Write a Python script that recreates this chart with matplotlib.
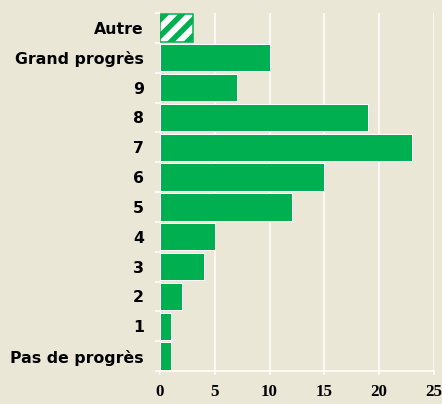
import matplotlib
matplotlib.use("Agg")
import matplotlib.pyplot as plt
from matplotlib.lines import Line2D
from matplotlib.transforms import IdentityTransform
import numpy as np

# data (bottom to top)
categories = ["Pas de progrès", "1", "2", "3", "4", "5", "6", "7", "8", "9",
              "Grand progrès", "Autre"]
values = [1, 1, 2, 4, 5, 12, 15, 23, 19, 7, 10, 3]
xticks = [0, 5, 10, 15, 20, 25]

BG = "#EBE7D7"
GREEN = "#00B050"

fig = plt.figure(figsize=(442 / 72, 404 / 72), dpi=72, facecolor=BG)
ax = fig.add_axes([160 / 442, 1 - 371 / 404, 274 / 442, 358 / 404])
ax.set_facecolor(BG)

y = np.arange(len(categories))
bars = ax.barh(y[:-1], values[:-1], height=0.92, color=GREEN,
               edgecolor="white", linewidth=1, zorder=3)
other = ax.barh(y[-1], values[-1], height=0.92, color="white",
                edgecolor="none", zorder=3)

ax.set_xlim(0, 25)
ax.set_ylim(-0.5, len(categories) - 0.5)

# thick diagonal stripes on the "Autre" bar (spacing in pixels)
rect = other[0]
x0, y0 = ax.transData.transform((rect.get_x(), rect.get_y()))
x1, y1 = ax.transData.transform((rect.get_x() + rect.get_width(),
                                 rect.get_y() + rect.get_height()))
h = y1 - y0
for k in np.arange(11 - 4 * 16.5, (x1 - x0) + 16.5, 16.5):
    ln = Line2D([x0 + k - 10, x0 + k + h + 10], [y0 - 10, y1 + 10],
                color=GREEN, linewidth=5.5, transform=IdentityTransform(),
                zorder=3.5)
    ax.add_line(ln)
    ln.set_clip_path(rect)
ax.barh(y[-1], values[-1], height=0.92, facecolor="none",
        edgecolor=GREEN, linewidth=1.5, zorder=4)

ax.set_xticks(xticks)
ax.set_xticklabels([str(t) for t in xticks], fontfamily="Liberation Serif",
                   fontweight="bold", fontsize=17)
ax.set_yticks(y)
ax.set_yticklabels(categories, fontfamily="DejaVu Sans", fontweight="bold",
                   fontsize=15.7)
ax.set_yticks(np.arange(-0.5, len(categories), 1), minor=True)

ax.grid(axis="x", color="white", linewidth=1.5, zorder=1)
ax.tick_params(axis="y", which="major", length=0, pad=16)
ax.tick_params(axis="y", which="minor", length=5, color="white", width=1.5)
ax.tick_params(axis="x", length=4, color="white", width=1.5, pad=9)

for s in ["top", "right", "left"]:
    ax.spines[s].set_visible(False)
ax.spines["bottom"].set_color("white")
ax.spines["bottom"].set_linewidth(1.5)

fig.savefig("out.png", dpi=72, facecolor=BG)
